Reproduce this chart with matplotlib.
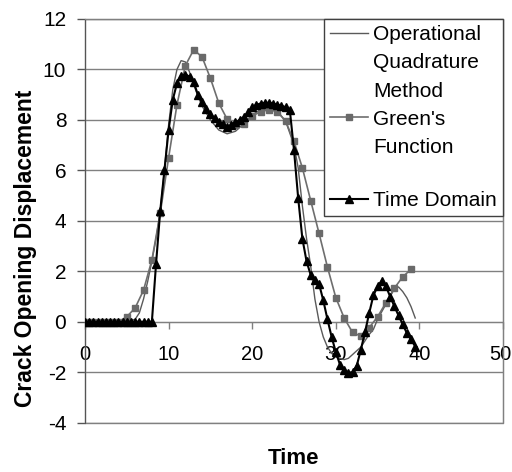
import matplotlib
matplotlib.use('Agg')
import matplotlib.pyplot as plt
import matplotlib.transforms as mtransforms
from matplotlib.lines import Line2D
from matplotlib.patches import Rectangle

plt.rcParams['font.family'] = ['Liberation Sans', 'DejaVu Sans']

# Operational Quadrature Method (line only)
oqm_t = [0, 1, 2, 3, 4, 5, 6.0, 6.5, 7.0, 7.5, 8.0, 8.5, 9.0, 9.5, 10.0, 10.5,
         11.0, 11.5, 12.0, 12.5, 13.0, 13.5, 14.0, 15.0, 16.0, 17.0, 18.0,
         19.0, 20.0, 21.0, 22.0, 23.0, 24.0, 25.0, 25.5, 26.0, 26.5, 27.0,
         27.5, 28.0, 28.5, 29.0, 29.5, 30.0, 31.0, 31.5, 32.0, 33.0, 34.0,
         34.5, 35.0, 36.0, 36.5, 37.0, 37.5, 38.0, 38.5, 39.0, 39.5]
oqm_v = [0, 0, 0, 0, 0, 0, 0.1, 0.35, 0.9, 1.6, 2.4, 3.3, 4.4, 6.0, 7.8, 9.2,
         10.0, 10.35, 10.3, 9.9, 9.4, 8.95, 8.55, 8.0, 7.6, 7.45, 7.55,
         7.85, 8.2, 8.4, 8.45, 8.35, 7.95, 7.0, 6.1, 4.6, 3.3, 2.2,
         0.9, 0.0, -0.6, -1.0, -1.25, -1.4, -1.5, -1.45, -1.3, -1.0, -0.5,
         -0.3, 0.1, 0.7, 1.0, 1.3, 1.38, 1.2, 0.95, 0.6, 0.15]

# Green's Function (squares)
gf_t = list(range(0, 40))
gf_v = [0, 0, 0, 0, 0, 0.2, 0.55, 1.25, 2.45, 4.3,
        6.5, 8.6, 10.15, 10.78, 10.5, 9.65, 8.67, 8.03, 7.8, 7.83,
        8.15, 8.33, 8.4, 8.33, 7.95, 7.15, 6.1, 4.8, 3.5, 2.17,
        0.96, 0.15, -0.42, -0.57, -0.23, 0.2, 0.76, 1.33, 1.78, 2.08]

# Time Domain (triangles)
td_t = [i * 0.5 for i in range(0, 80)]
td_v = [0] * 17 + [
    2.3, 4.4, 6.0, 7.6, 8.8, 9.45, 9.75, 9.8, 9.72, 9.5,
    9.0, 8.7, 8.42, 8.23, 8.07, 7.93, 7.83, 7.72, 7.8, 7.9,
    8.0, 8.12, 8.3, 8.5, 8.6, 8.65, 8.68, 8.68, 8.65, 8.6,
    8.57, 8.5, 8.4, 6.8, 4.9, 3.3, 2.4, 1.85, 1.65, 1.5,
    0.85, 0.1, -0.6, -1.2, -1.7, -1.9, -2.02, -2.0, -1.75, -1.1,
    -0.4, 0.35, 1.05, 1.4, 1.62, 1.4, 1.0, 0.62, 0.25, -0.1,
    -0.45, -0.7, -0.98]

x_ticks = [0, 10, 20, 30, 40, 50]
y_ticks = [-4, -2, 0, 2, 4, 6, 8, 10, 12]

frame_gray = '#808080'

fig = plt.figure(figsize=(5.12, 4.72), dpi=100)
ax = fig.add_axes([85 / 512, 1 - 422.7 / 472, 418 / 512, 403.7 / 472])

ax.plot(oqm_t, oqm_v, color='#5a5a5a', lw=1.0, zorder=3)
ax.plot(gf_t, gf_v, color='#6e6e6e', lw=1.2, marker='s', ms=4.3,
        mfc='#6a6a6a', mec='#6a6a6a', zorder=4)
ax.plot(td_t, td_v, color='black', lw=1.5, marker='^', ms=5.5,
        mfc='black', mec='black', zorder=5)

ax.set_xlim(0, 50)
ax.set_ylim(-4, 12)
ax.set_xticks(x_ticks)
ax.set_yticks(y_ticks)
ax.set_xticklabels([str(v) for v in x_ticks])
ax.set_yticklabels([str(v) for v in y_ticks])

ax.yaxis.grid(True, color=frame_gray, lw=1)
ax.set_axisbelow(True)

ax.spines['bottom'].set_position(('data', 0))
ax.spines['bottom'].set_color(frame_gray)
ax.spines['top'].set_color(frame_gray)
ax.spines['right'].set_color(frame_gray)
ax.spines['left'].set_color('#555555')
ax.add_patch(Rectangle((0, 0), 1, 1, transform=ax.transAxes, fill=False,
                       ec=frame_gray, lw=1, clip_on=False, zorder=1))

ax.tick_params(axis='x', direction='out', length=5, width=1,
               color=frame_gray, pad=12, labelsize=14.5)
ax.tick_params(axis='y', direction='out', length=5.5, width=1,
               color='#555555', pad=8, labelsize=15)

# keep the last x label inside the image edge
last = ax.get_xticklabels()[-1]
last.set_transform(last.get_transform() +
                   mtransforms.ScaledTranslation(-3 / 100, 0, fig.dpi_scale_trans))

fig.text(26 / 512, 1 - 248 / 472, 'Crack Opening Displacement',
         rotation=90, ha='center', va='center', fontsize=16.5,
         fontweight='bold')
fig.text(293 / 512, 1 - 459 / 472, 'Time', ha='center', va='center',
         fontsize=16, fontweight='bold')

blank = Line2D([], [], linestyle='none')
handles = [
    Line2D([], [], color='#5a5a5a', lw=1.0),
    blank, blank,
    Line2D([], [], color='#6e6e6e', lw=1.2, marker='s', ms=4.3,
           mfc='#6a6a6a', mec='#6a6a6a'),
    blank, blank,
    Line2D([], [], color='black', lw=1.5, marker='^', ms=5.5),
]
labels = ['Operational', 'Quadrature', 'Method', "Green's", 'Function', '',
          'Time Domain']
leg = ax.legend(handles, labels, loc='upper right', borderaxespad=0,
                fontsize=15, frameon=True, fancybox=False, framealpha=1,
                edgecolor='#404040', borderpad=0.3, handlelength=1.8,
                handletextpad=0.25, labelspacing=0.44, numpoints=1)
leg.get_frame().set_linewidth(1)
leg.get_texts()[5].set_fontsize(4)
leg.set_zorder(10)

fig.savefig('out.png', dpi=100)
